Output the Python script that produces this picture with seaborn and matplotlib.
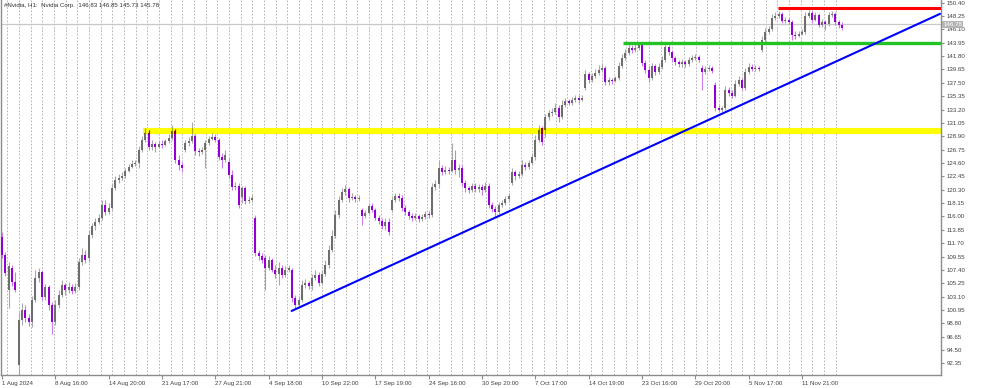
import numpy as np
import matplotlib
matplotlib.use("Agg")
import matplotlib.pyplot as plt
from matplotlib.patches import Rectangle
import seaborn as sns

# ---------------- data (hourly-ish candles) ----------------
opens = [
    112.7, 109.8, 104.2, 107.7, 105.5, 92.1, 99.3, 100.9, 99.7, 99.0,
    102.6, 106.1, 107.1, 103.0, 104.6, 101.8, 99.0, 101.8, 103.4, 105.0,
    104.2, 104.6, 104.0, 104.6, 108.7, 109.8, 109.3, 113.0, 114.5, 115.1,
    115.8, 117.8, 116.7, 117.4, 120.6, 121.9, 122.2, 122.5, 123.3, 124.0,
    124.4, 124.6, 126.7, 128.3, 129.4, 127.2, 127.7, 127.2, 127.7, 127.5,
    128.1, 128.6, 129.8, 125.1, 124.3, 126.7, 127.8, 128.1, 128.9, 126.5,
    126.4, 126.7, 127.8, 128.5, 128.8, 128.3, 125.6, 125.1, 124.8, 122.7,
    120.7, 120.9, 119.1, 120.6, 118.5, 118.7, 115.8, 110.1, 109.6, 109.3,
    107.7, 109.0, 107.4, 106.7, 107.7, 106.6, 107.4, 107.4, 102.9, 101.8,
    102.6, 105.0, 105.3, 104.8, 106.1, 106.6, 105.3, 106.7, 108.2, 110.6,
    112.9, 116.2, 118.7, 119.9, 120.4, 119.0, 119.1, 118.8, 117.0, 116.1,
    116.6, 117.7, 117.0, 115.8, 115.3, 114.5, 115.1, 117.0, 118.7, 119.3,
    119.0, 117.4, 116.7, 116.1, 115.8, 116.1, 115.6, 115.9, 116.4, 116.2,
    120.7, 121.2, 123.8, 123.2, 123.5, 123.3, 125.1, 123.5, 123.8, 121.4,
    120.6, 120.3, 120.9, 120.4, 120.7, 120.3, 120.9, 117.8, 117.2, 116.7,
    117.8, 118.2, 118.8, 121.4, 123.2, 122.5, 122.8, 124.3, 124.0, 124.6,
    125.6, 128.3, 130.2, 129.9, 132.0, 132.7, 132.8, 133.5, 132.0, 133.9,
    134.6, 134.3, 134.7, 135.1, 134.7, 136.7, 138.9, 138.0, 138.6, 139.1,
    139.6, 139.9, 137.6, 138.0, 137.8, 138.3, 140.2, 141.5, 142.3, 143.1,
    142.8, 143.1, 143.6, 140.7, 139.6, 138.3, 140.2, 139.2, 140.1, 141.2,
    143.3, 142.5, 141.5, 140.9, 140.5, 140.9, 140.5, 141.2, 141.5, 141.7,
    139.9, 139.2, 139.7, 139.9, 137.2, 133.5, 133.1, 133.5, 136.4, 135.9,
    135.4, 137.3, 138.0, 136.7, 139.2, 140.1, 139.7, 139.9, 142.8, 144.4,
    145.7, 146.2, 147.9, 148.3, 148.6, 147.5, 147.6, 147.3, 145.2, 145.0,
    145.4, 145.7, 148.3, 148.7, 147.6, 148.4, 146.8, 147.3, 147.0, 148.4,
    148.6, 147.3, 146.8,
]
highs = [
    113.5, 110.3, 108.7, 108.2, 107.1, 100.6, 102.1, 101.8, 100.3, 103.2,
    107.4, 107.7, 107.4, 105.1, 105.0, 102.2, 102.6, 104.2, 105.8, 105.3,
    105.5, 105.1, 105.3, 109.3, 110.9, 110.6, 113.8, 114.9, 115.8, 116.4,
    118.7, 118.7, 118.2, 121.4, 122.5, 122.8, 123.2, 123.8, 124.4, 125.1,
    125.1, 127.3, 128.9, 130.2, 129.9, 128.3, 128.0, 128.1, 128.3, 128.5,
    129.3, 130.7, 130.1, 125.9, 124.8, 128.3, 128.8, 131.2, 129.3, 127.0,
    127.2, 128.3, 128.9, 129.4, 129.3, 128.6, 126.2, 126.7, 125.4, 123.5,
    121.5, 121.4, 120.9, 120.9, 119.3, 119.5, 116.2, 110.6, 110.1, 109.8,
    109.6, 109.3, 108.2, 108.7, 108.2, 108.0, 108.2, 107.7, 103.4, 103.2,
    105.8, 105.9, 105.6, 106.7, 107.4, 107.1, 107.4, 109.0, 111.4, 113.8,
    117.0, 119.3, 120.6, 121.1, 120.7, 119.8, 119.5, 119.5, 117.4, 117.0,
    118.2, 118.2, 117.4, 116.2, 115.8, 115.8, 115.8, 119.3, 119.8, 119.8,
    119.5, 117.8, 117.0, 116.6, 116.6, 116.4, 116.4, 116.9, 116.9, 121.4,
    121.9, 125.1, 124.3, 124.1, 124.0, 127.8, 126.7, 124.4, 124.3, 121.9,
    120.9, 121.4, 121.4, 121.2, 121.2, 121.5, 121.4, 118.3, 117.7, 118.3,
    118.7, 119.3, 119.8, 123.8, 123.5, 123.3, 125.1, 124.8, 125.1, 126.2,
    129.1, 130.7, 130.6, 132.5, 133.1, 133.5, 134.3, 133.9, 134.7, 135.1,
    134.9, 135.2, 135.5, 135.5, 135.5, 139.6, 139.2, 139.1, 139.7, 140.4,
    140.7, 140.2, 138.4, 138.3, 138.6, 140.9, 142.1, 143.0, 143.8, 143.6,
    143.8, 144.1, 143.9, 141.2, 140.2, 140.7, 140.5, 140.7, 141.8, 143.9,
    143.6, 142.8, 141.8, 141.2, 141.3, 141.2, 141.7, 142.0, 142.1, 142.0,
    140.4, 140.2, 140.4, 140.2, 137.6, 133.9, 133.8, 137.0, 136.8, 136.4,
    138.0, 138.6, 138.3, 139.9, 140.7, 140.5, 140.4, 140.2, 145.0, 146.3,
    146.6, 148.6, 148.9, 149.1, 148.9, 148.1, 147.9, 147.6, 145.8, 145.8,
    146.2, 148.9, 149.2, 149.1, 148.9, 148.7, 147.8, 147.6, 148.9, 149.1,
    148.9, 147.6, 147.3,
]
lows = [
    109.3, 106.4, 101.3, 104.8, 103.8, 90.2, 98.5, 99.0, 98.4, 98.2,
    102.2, 105.5, 102.6, 102.6, 100.9, 97.1, 98.5, 101.3, 103.0, 103.4,
    103.7, 103.5, 103.7, 104.2, 108.2, 108.5, 108.7, 112.5, 113.8, 114.8,
    115.4, 116.2, 116.4, 117.0, 120.3, 121.4, 121.9, 122.2, 123.2, 123.8,
    124.1, 123.8, 126.4, 128.0, 126.7, 126.7, 126.4, 127.0, 127.0, 127.3,
    127.8, 128.3, 124.6, 123.5, 123.2, 126.4, 127.3, 127.8, 125.9, 125.7,
    126.1, 123.8, 127.5, 128.3, 128.0, 125.1, 123.8, 124.8, 122.2, 120.3,
    120.3, 117.4, 118.2, 118.0, 118.2, 118.3, 109.6, 109.0, 108.5, 104.2,
    107.4, 107.1, 106.1, 105.0, 106.1, 106.3, 107.1, 102.2, 101.3, 101.4,
    102.2, 104.5, 104.3, 104.2, 105.8, 104.8, 105.0, 106.4, 107.7, 110.3,
    112.5, 115.8, 118.3, 119.5, 118.3, 118.7, 118.3, 118.5, 114.6, 115.8,
    116.2, 116.7, 115.4, 114.8, 114.0, 113.8, 113.0, 116.7, 118.3, 118.5,
    116.9, 116.2, 115.6, 115.3, 115.4, 115.1, 115.3, 115.6, 115.8, 115.9,
    120.3, 120.7, 122.7, 122.8, 122.8, 123.2, 122.8, 122.4, 120.9, 119.9,
    119.8, 119.9, 119.9, 119.9, 119.5, 119.9, 117.4, 116.7, 115.9, 116.4,
    117.5, 117.8, 118.3, 121.1, 121.9, 122.2, 122.5, 123.5, 123.6, 124.3,
    125.1, 128.0, 127.5, 128.8, 131.5, 132.2, 132.5, 131.2, 131.7, 133.6,
    133.9, 133.9, 134.4, 134.3, 134.6, 136.4, 137.5, 137.6, 138.3, 138.8,
    139.2, 137.2, 137.2, 137.3, 137.6, 138.0, 139.9, 141.2, 142.0, 142.3,
    142.5, 142.8, 140.2, 139.1, 137.6, 138.0, 138.8, 138.9, 139.7, 140.9,
    142.0, 140.9, 140.4, 140.1, 140.1, 140.1, 140.2, 140.9, 141.2, 140.9,
    136.4, 138.9, 139.4, 139.1, 133.0, 132.8, 132.8, 133.1, 135.4, 135.1,
    135.2, 137.0, 136.4, 136.4, 138.9, 139.4, 139.4, 139.4, 142.5, 144.1,
    145.4, 145.8, 147.6, 147.9, 147.1, 147.1, 147.0, 144.4, 144.6, 144.9,
    145.2, 145.4, 147.9, 147.1, 147.5, 146.5, 146.5, 146.0, 146.6, 148.1,
    146.8, 146.3, 146.0,
]
closes = [
    109.8, 106.9, 108.0, 105.5, 104.2, 99.3, 100.9, 99.7, 99.0, 102.6,
    106.1, 107.1, 103.0, 104.6, 101.8, 99.0, 101.8, 103.4, 105.0, 104.2,
    104.6, 104.0, 104.6, 108.7, 109.8, 109.0, 113.0, 114.5, 115.1, 115.8,
    117.8, 116.7, 117.4, 120.6, 121.9, 122.2, 122.5, 123.3, 124.0, 124.4,
    124.6, 126.7, 128.3, 129.4, 127.2, 127.7, 127.2, 127.7, 127.5, 128.1,
    128.6, 129.8, 125.1, 124.3, 123.8, 127.8, 128.1, 128.9, 126.5, 126.4,
    126.7, 127.8, 128.5, 128.8, 128.3, 125.6, 125.1, 125.9, 122.7, 120.7,
    120.9, 117.8, 120.6, 118.5, 118.7, 119.0, 110.1, 109.6, 109.0, 107.7,
    109.0, 107.4, 106.7, 107.7, 106.6, 107.4, 107.7, 102.9, 101.8, 102.6,
    105.0, 105.3, 104.8, 106.1, 106.6, 105.3, 106.7, 108.2, 110.6, 112.9,
    116.2, 118.7, 119.9, 120.4, 119.0, 119.1, 118.8, 119.0, 116.1, 116.6,
    117.7, 117.0, 115.8, 115.3, 114.5, 115.1, 113.5, 118.7, 119.3, 119.0,
    117.4, 116.7, 116.1, 115.8, 116.1, 115.6, 115.9, 116.4, 116.2, 120.7,
    121.2, 123.8, 123.2, 123.5, 123.3, 125.1, 123.5, 123.8, 121.4, 120.6,
    120.3, 120.9, 120.4, 120.7, 120.3, 120.9, 117.8, 117.2, 116.7, 117.8,
    118.2, 118.8, 119.3, 123.2, 122.5, 122.8, 124.3, 124.0, 124.6, 125.6,
    128.3, 129.9, 128.0, 132.0, 132.7, 132.8, 133.5, 132.0, 133.9, 134.6,
    134.3, 134.7, 135.1, 134.7, 135.1, 138.9, 138.0, 138.6, 139.1, 139.6,
    139.9, 137.6, 138.0, 137.8, 138.3, 140.2, 141.5, 142.3, 143.1, 142.8,
    143.1, 143.6, 140.7, 139.6, 138.3, 140.2, 139.2, 140.1, 141.2, 143.3,
    142.5, 141.5, 140.9, 140.5, 140.9, 140.5, 141.2, 141.5, 141.7, 141.2,
    139.2, 139.7, 139.9, 139.4, 133.5, 133.1, 133.5, 136.4, 135.9, 135.4,
    137.3, 138.0, 136.7, 139.2, 140.1, 139.7, 139.9, 139.7, 144.4, 145.7,
    146.2, 147.9, 148.3, 148.6, 147.5, 147.6, 147.3, 145.2, 145.0, 145.4,
    145.7, 148.3, 148.7, 147.6, 148.4, 146.8, 147.3, 147.0, 148.4, 148.6,
    147.3, 146.8, 146.3,
]

x_labels = ["1 Aug 2024", "8 Aug 16:00", "14 Aug 20:00", "21 Aug 17:00",
            "27 Aug 21:00", "4 Sep 18:00", "10 Sep 22:00", "17 Sep 19:00",
            "24 Sep 16:00", "30 Sep 20:00", "7 Oct 17:00", "14 Oct 19:00",
            "23 Oct 16:00", "29 Oct 20:00", "5 Nov 17:00", "11 Nov 21:00"]
bars_per_label = 16
y_ticks = [150.40, 148.25, 146.10, 143.95, 141.80, 139.65, 137.50, 135.35,
           133.20, 131.05, 128.90, 126.75, 124.60, 122.45, 120.30, 118.15,
           116.00, 113.85, 111.70, 109.55, 107.40, 105.25, 103.10, 100.95,
           98.80, 96.65, 94.50, 92.35]

# drawn objects (levels / trendline)
yellow_level = 129.8
yellow_start = 42.3
green_level = 143.95
green_start = 186.3
red_level = 149.6
red_start = 232.8
trend_x = [86.9, 281.4]
trend_y = [100.8, 148.6]
price_line = 146.9
price_label = "146.78"
title_text = "#Nvidia, H1:  Nvidia Corp.  146.83 146.85 145.73 145.78"

# ---------------- drawing ----------------
sns.set_theme(style="white")
plt.rcParams["font.family"] = ["Liberation Sans", "DejaVu Sans"]
FS = 4.4

fig = plt.figure(figsize=(10, 3.88), dpi=100)
ax = fig.add_axes([0.001, 13 / 388, 0.940, 375 / 388])
ax.set_facecolor("white")

n = len(closes)
xs = np.arange(n)
o = np.array(opens); c = np.array(closes)
h = np.array(highs); l = np.array(lows)
bull = c >= o

x_max = 281.7
ax.set_xlim(-0.3, x_max)
ax.set_ylim(90.49, 150.83)

# vertical dashed day separators
for gx in np.arange(1.6, n, 3.5):
    ax.axvline(gx, color="#a8a8a8", lw=0.6, ls=(0, (2, 2)), zorder=0)

# current price line
ax.axhline(price_line, color="#c8c8c8", lw=0.9, zorder=0.5)

# levels
sns.lineplot(x=[yellow_start, x_max], y=[yellow_level, yellow_level], ax=ax,
             color="#ffff00", lw=4.4, zorder=1, solid_capstyle="butt")

bull_body = "#6e6e6e"; bear_body = "#9400d3"
bull_wick = "#a9a9a9"; bear_wick = "#c77ee6"

def draw_candles(clip=None, colors=None):
    bb, rb, bw, rw = colors
    arts = []
    arts.append(ax.vlines(xs[bull], l[bull], h[bull], colors=bw, lw=0.8, zorder=2))
    arts.append(ax.vlines(xs[~bull], l[~bull], h[~bull], colors=rw, lw=0.8, zorder=2))
    bottoms = np.minimum(o, c)
    heights = np.maximum(np.abs(c - o), 0.12)
    arts.append(ax.bar(xs[bull], heights[bull], bottom=bottoms[bull], width=0.62,
                       color=bb, linewidth=0, zorder=3))
    arts.append(ax.bar(xs[~bull], heights[~bull], bottom=bottoms[~bull], width=0.62,
                       color=rb, linewidth=0, zorder=3))
    if clip is not None:
        for a in arts:
            if hasattr(a, "patches"):
                for p in a.patches:
                    p.set_clip_path(clip)
                    p.set_zorder(3.5)
            else:
                a.set_clip_path(clip)
                a.set_zorder(3.5)

draw_candles(colors=(bull_body, bear_body, bull_wick, bear_wick))

# candles inside the yellow band look multiplied with yellow
band = Rectangle((yellow_start, yellow_level - 0.47), x_max - yellow_start, 0.94,
                 transform=ax.transData, facecolor="none", edgecolor="none")
ax.add_patch(band)
draw_candles(clip=band, colors=("#6e6e00", "#940000", "#a9a900", "#c70000"))

sns.lineplot(x=[green_start, x_max], y=[green_level, green_level], ax=ax,
             color="#22c322", lw=2.4, zorder=4, solid_capstyle="butt")
sns.lineplot(x=[red_start, x_max], y=[red_level, red_level], ax=ax,
             color="#ff0000", lw=2.2, zorder=4, solid_capstyle="butt")
sns.lineplot(x=trend_x, y=trend_y, ax=ax, color="#0000ff", lw=1.5, zorder=4)

# axes styling
for side in ["left", "bottom", "right"]:
    ax.spines[side].set_visible(True)
    ax.spines[side].set_color("#8c8c8c")
    ax.spines[side].set_linewidth(1.0)
ax.spines["top"].set_visible(False)

ax.yaxis.tick_right()
ax.set_yticks(y_ticks)
ax.set_yticklabels([f"{v:.2f}" for v in y_ticks])
ax.tick_params(axis="y", which="both", right=True, left=False, length=2.5,
               width=0.8, color="#8c8c8c", labelsize=FS, labelcolor="#404040", pad=1.5)

xt = np.arange(len(x_labels)) * bars_per_label
ax.set_xticks(xt)
ax.set_xticklabels(x_labels, ha="left")
ax.tick_params(axis="x", which="both", bottom=True, length=3, width=0.8,
               color="#8c8c8c", labelsize=FS, labelcolor="#404040", pad=1.0)
ax.set_xlabel(""); ax.set_ylabel("")
ax.grid(False)

# current price label on the axis
ax.annotate(price_label, xy=(1.0, price_line), xycoords=("axes fraction", "data"),
            xytext=(1.5, 0), textcoords="offset points", ha="left", va="center",
            fontsize=FS, color="white",
            bbox=dict(boxstyle="square,pad=0.15", fc="#b4b4b4", ec="none"),
            annotation_clip=False)

ax.text(0.003, 0.993, title_text, transform=ax.transAxes, ha="left", va="top",
        fontsize=FS, color="#303030", zorder=6)

fig.savefig("out.png", dpi=100, facecolor="white")
